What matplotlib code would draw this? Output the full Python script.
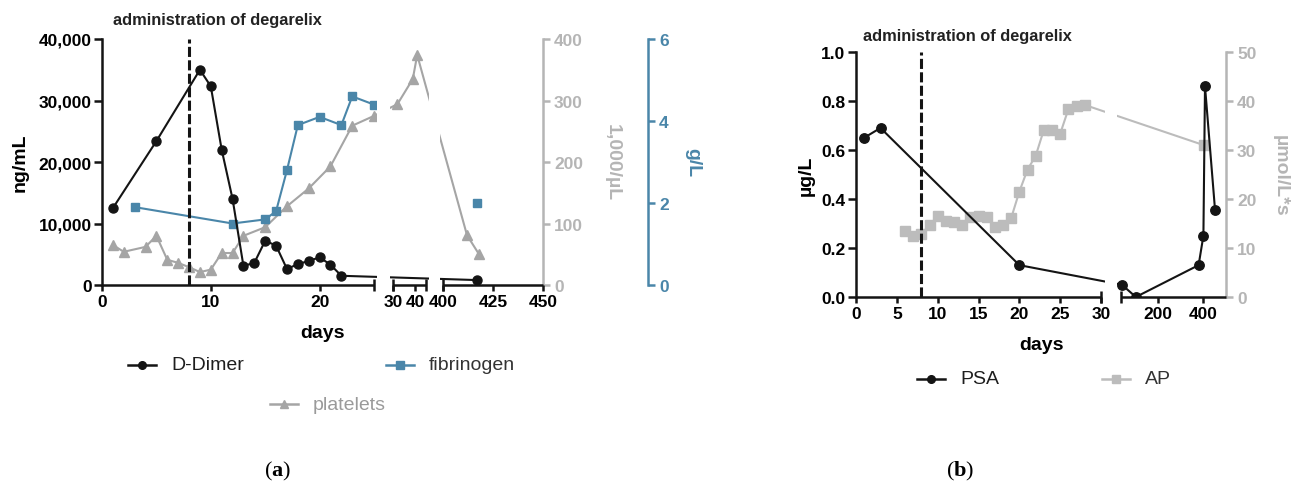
import matplotlib
matplotlib.use("Agg")
import matplotlib.pyplot as plt
import numpy as np
from matplotlib.lines import Line2D
from matplotlib.ticker import FuncFormatter, FormatStrFormatter

plt.rcParams["font.family"] = ["Liberation Sans", "DejaVu Sans"]
plt.rcParams["font.weight"] = "bold"
plt.rcParams["mathtext.fontset"] = "custom"
plt.rcParams["mathtext.rm"] = "Liberation Serif"
plt.rcParams["mathtext.bf"] = "Liberation Serif:bold"

# ---------------- panel (a) data ----------------
ddimer_days = [1, 5, 9, 10, 11, 12, 13, 14, 15, 16, 17, 18, 19, 20, 21, 22, 417]
ddimer_ngml = [12500, 23400, 35000, 32300, 22000, 14000, 3100, 3600, 7200, 6400,
               2600, 3400, 3900, 4500, 3300, 1500, 800]

platelet_days = [1, 2, 4, 5, 6, 7, 8, 9, 10, 11, 12, 13, 15, 17, 19, 21, 23, 25,
                 32, 39, 41, 412, 418]
platelet_k_ul = [65, 54, 62, 80, 41, 36, 29, 21, 25, 52, 52, 80, 94, 128, 157, 193,
                 259, 275, 294, 335, 374, 81, 50]

# nan breaks the line: the last fibrinogen value is not joined in the original
fibrinogen_days = [3, 12, 15, 16, 17, 18, 20, 22, 23, 25, 30, 417]
fibrinogen_gl = [1.9, 1.5, 1.6, 1.8, 2.8, 3.9, 4.1, 3.9, 4.6, 4.4, np.nan, 2.0]

# ---------------- panel (b) data ----------------
psa_days = [1, 3, 20, 44, 105, 380, 401, 408, 452]
psa_ugl = [0.65, 0.69, 0.13, 0.05, 0.0, 0.13, 0.25, 0.86, 0.355]

ap_days = [6, 7, 8, 9, 10, 11, 12, 13, 14, 15, 16, 17, 18, 19, 20, 21, 22, 23, 24,
           25, 26, 27, 28, 402]
ap_umol = [13.4, 12.5, 12.9, 14.6, 16.6, 15.6, 15.4, 14.6, 16.3, 16.6, 16.3, 14.3,
           14.6, 16.1, 21.5, 26.0, 28.8, 34.1, 34.0, 33.3, 38.3, 39.0, 39.2, 31.0]

degarelix_day = 8

# broken x axes: day ranges shown and their widths in pixels
SEG_A = [(0, 25), (30, 45), (400, 450)]
PX_A = [0, 272, 291, 324, 341, 441]
SEG_B = [(0, 30), (40, 500)]
PX_B = [0, 245, 265, 370]

BLACK = "#141414"
BLUE = "#4a86a9"
PLT_GREY = "#a5a5a5"
AXIS_GREY = "#b5b5b5"
AP_GREY = "#bcbcbc"

W, H = 1291, 485


def broken_functions(segments, px):
    d = np.array([v for s in segments for v in s], float)
    p = np.asarray(px, float)
    s0 = (p[1] - p[0]) / (d[1] - d[0])
    s1 = (p[-1] - p[-2]) / (d[-1] - d[-2])

    def fwd(x):
        x = np.asarray(x, float)
        out = np.interp(x, d, p)
        out = np.where(x < d[0], p[0] + (x - d[0]) * s0, out)
        return np.where(x > d[-1], p[-1] + (x - d[-1]) * s1, out)

    def inv(y):
        y = np.asarray(y, float)
        out = np.interp(y, p, d)
        out = np.where(y < p[0], d[0] + (y - p[0]) / s0, out)
        return np.where(y > p[-1], d[-1] + (y - p[-1]) / s1, out)

    return fwd, inv


def series(ax, x, y, color, marker, ms):
    ax.plot(x, y, color=color, lw=1.5, zorder=2)
    ax.plot(x, y, ls="none", marker=marker, ms=ms, color=color, zorder=4)


def mask_gaps(ax, segments, margin):
    for (_, a1), (b0, _) in zip(segments[:-1], segments[1:]):
        w = b0 - a1
        ax.axvspan(a1 + margin * w, b0 - margin * w, color="white", lw=0, zorder=3)


def style_main(ax, segments, major, bounds):
    for s in ("top", "right", "bottom"):
        ax.spines[s].set_visible(False)
    ax.spines["left"].set_linewidth(1.8)
    ax.spines["left"].set_color(BLACK)
    for a, b in segments:
        ax.plot([a, b], [0, 0], transform=ax.get_xaxis_transform(), color=BLACK,
                lw=1.8, clip_on=False, solid_capstyle="butt", zorder=5)
    ax.xaxis.remove_overlapping_locs = False
    ax.set_xticks(major)
    ax.set_xticks(bounds, minor=True)
    ax.tick_params(axis="x", which="major", length=4.5, width=1.8, pad=2,
                   labelsize=12.5, color=BLACK)
    ax.tick_params(axis="x", which="minor", direction="inout", length=8, width=1.8,
                   color=BLACK)
    ax.tick_params(axis="y", length=6, width=1.8, pad=1.5, labelsize=12.5, color=BLACK)
    ax.set_xlabel("days", fontsize=14, fontweight="bold")


def style_right(ax, color, outward=None):
    for s in ("top", "left", "bottom"):
        ax.spines[s].set_visible(False)
    ax.spines["right"].set_color(color)
    ax.spines["right"].set_linewidth(1.8)
    if outward is not None:
        ax.spines["right"].set_position(("axes", outward))
    ax.tick_params(axis="y", colors=color, length=5, width=1.8, pad=3, labelsize=12.5)


def legend_entry(fig, x_px, y_px, label, color, marker, text_color):
    xs = np.array([x_px, x_px + 28]) / W
    yy = 1 - y_px / H
    fig.add_artist(Line2D(xs, [yy, yy], color=color, lw=1.8))
    fig.add_artist(Line2D([xs.mean()], [yy], marker=marker, ms=5.5, color=color, ls="none"))
    fig.text((x_px + 43) / W, yy, label, fontsize=14, fontweight="normal",
             color=text_color, va="center", ha="left")


fig = plt.figure(figsize=(W / 100, H / 100), dpi=100)

# ================= panel (a) =================
ax = fig.add_axes([102 / W, (H - 286) / H, 441 / W, 246 / H])
ax.set_xscale("function", functions=broken_functions(SEG_A, PX_A))
ax.set_xlim(0, 450)
ax_p = ax.twinx()
ax_f = ax.twinx()

series(ax_p, platelet_days, platelet_k_ul, PLT_GREY, "^", 7)
series(ax_f, fibrinogen_days, fibrinogen_gl, BLUE, "s", 6.3)
series(ax, ddimer_days, ddimer_ngml, BLACK, "o", 6.5)
ax.set_zorder(3)
ax.patch.set_visible(False)
for a in (ax, ax_p, ax_f):
    mask_gaps(a, SEG_A, 0.17)

ax.axvline(degarelix_day, color=BLACK, lw=2.2, ls=(0, (3.3, 1.1)), zorder=6)

ax.set_ylim(0, 40000)
ax.set_yticks(np.arange(0, 40001, 10000))
ax.yaxis.set_major_formatter(FuncFormatter(lambda v, p: f"{int(v):,}"))
style_main(ax, SEG_A, [0, 10, 20, 30, 40, 400, 425, 450], [25, 30, 45, 400])
ax.set_ylabel("ng/mL", fontsize=14, fontweight="bold")
ax.yaxis.set_label_coords(-0.186, 0.5)
ax.yaxis.label.set_va("center")
ax.xaxis.set_label_coords(0.5, -0.158)

ax_p.set_ylim(0, 400)
ax_p.set_yticks(np.arange(0, 401, 100))
style_right(ax_p, AXIS_GREY)
ax_p.set_ylabel("1,000/µL", fontsize=14, fontweight="bold", color=AXIS_GREY, rotation=270)
ax_p.yaxis.set_label_coords(1.156, 0.5)
ax_p.yaxis.label.set_va("center")

ax_f.set_ylim(0, 6)
ax_f.set_yticks([0, 2, 4, 6])
style_right(ax_f, BLUE, outward=1 + 105 / 441)
ax_f.set_ylabel("g/L", fontsize=14, fontweight="bold", color=BLUE, rotation=270)
ax_f.yaxis.set_label_coords(1.340, 0.5)
ax_f.yaxis.label.set_va("center")

fig.text(217 / W, 1 - 20 / H, "administration of degarelix", fontsize=11.8,
         fontweight="bold", color="#222222", ha="center", va="center")

legend_entry(fig, 128, 366, "D-Dimer", BLACK, "o", "#1e1e1e")
legend_entry(fig, 386, 366, "fibrinogen", BLUE, "s", "#333333")
legend_entry(fig, 270, 405, "platelets", PLT_GREY, "^", "#9a9a9a")
fig.text(278 / W, 1 - 471 / H, r"($\mathbf{a}$)", fontsize=16, fontweight="normal",
         family="Liberation Serif", ha="center", va="center")

# ================= panel (b) =================
bx = fig.add_axes([856 / W, (H - 298) / H, 370 / W, 245 / H])
bx.set_xscale("function", functions=broken_functions(SEG_B, PX_B))
bx.set_xlim(0, 500)
bx_ap = bx.twinx()

series(bx_ap, ap_days, ap_umol, AP_GREY, "s", 6.8)
series(bx, psa_days, psa_ugl, BLACK, "o", 6.8)
bx.set_zorder(3)
bx.patch.set_visible(False)
for a in (bx, bx_ap):
    mask_gaps(a, SEG_B, 0.2)

bx.axvline(degarelix_day, color=BLACK, lw=2.2, ls=(0, (3.3, 1.1)), zorder=6)

bx.set_ylim(0, 1.0)
bx.set_yticks(np.arange(0, 1.01, 0.2))
bx.yaxis.set_major_formatter(FormatStrFormatter("%.1f"))
style_main(bx, SEG_B, [0, 5, 10, 15, 20, 25, 30, 200, 400], [30, 40])
bx.set_ylabel("µg/L", fontsize=14, fontweight="bold")
bx.yaxis.set_label_coords(-0.135, 0.5)
bx.yaxis.label.set_va("center")
bx.xaxis.set_label_coords(0.5, -0.158)

bx_ap.set_ylim(0, 50)
bx_ap.set_yticks(np.arange(0, 51, 10))
style_right(bx_ap, AXIS_GREY)
bx_ap.set_ylabel("µmol/L*s", fontsize=14, fontweight="bold", color=AXIS_GREY, rotation=270)
bx_ap.yaxis.set_label_coords(1.146, 0.5)
bx_ap.yaxis.label.set_va("center")

fig.text(967 / W, 1 - 37 / H, "administration of degarelix", fontsize=11.8,
         fontweight="bold", color="#222222", ha="center", va="center")

legend_entry(fig, 917, 380, "PSA", BLACK, "o", "#1e1e1e")
legend_entry(fig, 1102, 380, "AP", AP_GREY, "s", "#333333")
fig.text(960 / W, 1 - 471 / H, r"($\mathbf{b}$)", fontsize=16, fontweight="normal",
         family="Liberation Serif", ha="center", va="center")

fig.savefig("out.png", dpi=100, facecolor="white")
